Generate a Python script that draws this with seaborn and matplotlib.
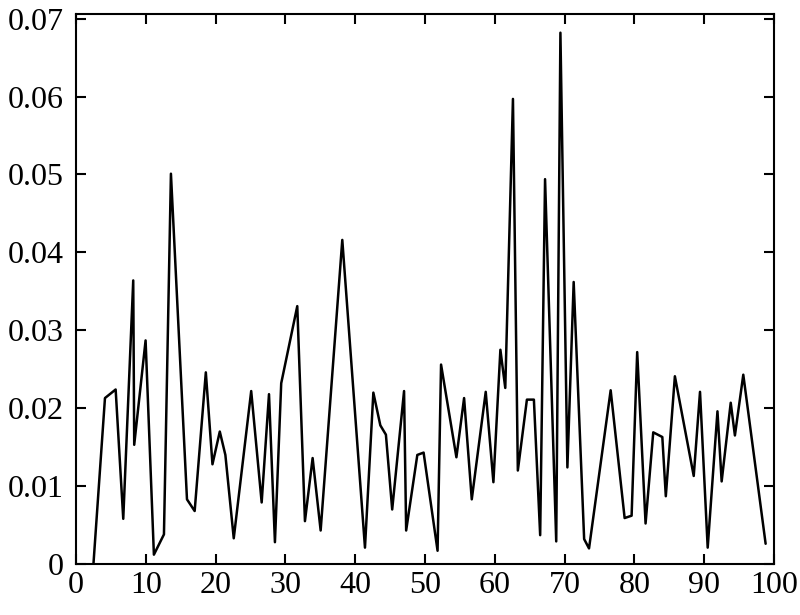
import matplotlib
matplotlib.use("Agg")
import matplotlib.pyplot as plt
import seaborn as sns
import pandas as pd

# ---- data ----
x_vals = [2.5, 4.15, 5.68, 6.77, 8.2, 8.34, 9.97, 11.16, 12.6, 13.6,
          15.9, 17.0, 18.6, 19.55, 20.6, 21.4, 22.6, 25.1, 26.6, 27.65,
          28.5, 29.4, 31.7, 32.8, 33.9, 35.05, 38.15, 41.4, 42.6, 43.6,
          44.4, 45.3, 47.0, 47.3, 48.9, 49.8, 51.8, 52.3, 54.5, 55.6,
          56.7, 58.7, 59.8, 60.8, 61.5, 62.6, 63.3, 64.6, 65.6, 66.5,
          67.2, 68.8, 69.4, 70.4, 71.3, 72.8, 73.5, 76.6, 78.6, 79.6,
          80.4, 81.6, 82.7, 84.0, 84.5, 85.8, 88.5, 89.4, 90.5, 91.9,
          92.5, 93.8, 94.4, 95.6, 98.8]
y_vals = [0.0, 0.0213, 0.0224, 0.0058, 0.0364, 0.0153, 0.0287, 0.0012, 0.0038, 0.0501,
          0.0083, 0.0068, 0.0246, 0.0128, 0.0170, 0.0140, 0.0033, 0.0222, 0.0079, 0.0218,
          0.0028, 0.0232, 0.0331, 0.0055, 0.0136, 0.0043, 0.0416, 0.0021, 0.0220, 0.0178,
          0.0166, 0.0070, 0.0222, 0.0043, 0.0140, 0.0143, 0.0017, 0.0256, 0.0137, 0.0213,
          0.0083, 0.0221, 0.0105, 0.0275, 0.0226, 0.0597, 0.0120, 0.0211, 0.0211, 0.0037,
          0.0494, 0.0029, 0.0682, 0.0124, 0.0362, 0.0032, 0.0020, 0.0223, 0.0059, 0.0062,
          0.0272, 0.0052, 0.0169, 0.0163, 0.0087, 0.0241, 0.0113, 0.0221, 0.0021, 0.0196,
          0.0106, 0.0207, 0.0165, 0.0243, 0.0026]

x_ticks = [0, 10, 20, 30, 40, 50, 60, 70, 80, 90, 100]
x_tick_labels = ["0", "10", "20", "30", "40", "50", "60", "70", "80", "90", "100"]
y_ticks = [0, 0.01, 0.02, 0.03, 0.04, 0.05, 0.06, 0.07]
y_tick_labels = ["0", "0.01", "0.02", "0.03", "0.04", "0.05", "0.06", "0.07"]

df = pd.DataFrame({"x": x_vals, "y": y_vals})

sns.set_style("ticks")
plt.rcParams["font.family"] = ["Liberation Serif", "DejaVu Serif"]

fig = plt.figure(figsize=(8.0, 6.15), dpi=100)
ax = fig.add_axes([76 / 800, 1 - 564 / 615, (774 - 76) / 800, (564 - 14) / 615])

sns.lineplot(data=df, x="x", y="y", ax=ax, color="black", linewidth=1.8,
             sort=False, estimator=None)

ax.set_xlim(0, 100)
ax.set_ylim(0, 0.0706)
ax.set_xticks(x_ticks)
ax.set_xticklabels(x_tick_labels)
ax.set_yticks(y_ticks)
ax.set_yticklabels(y_tick_labels)
ax.set_xlabel("")
ax.set_ylabel("")

for s in ax.spines.values():
    s.set_visible(True)
    s.set_linewidth(1.5)
    s.set_color("black")

ax.tick_params(axis="both", which="both", direction="in", top=True, right=True,
               length=7, width=1.5, labelsize=23, colors="black")
ax.tick_params(axis="y", pad=9)
ax.tick_params(axis="x", pad=5)

fig.savefig("out.png", dpi=100)
